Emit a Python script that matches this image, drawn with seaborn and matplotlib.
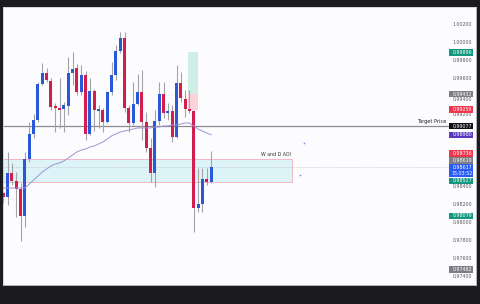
import matplotlib
matplotlib.use("Agg")
import matplotlib.pyplot as plt
import seaborn as sns
import numpy as np
import pandas as pd
from matplotlib.patches import Rectangle

# ---------------- data ----------------
opens = [0.98333, 0.98289, 0.98556, 0.98467, 0.98378, 0.98078, 0.98711, 0.98989, 0.99144, 0.99544,
         0.99667, 0.99578, 0.99300, 0.99278, 0.99267, 0.99300, 0.99667, 0.99722, 0.99456, 0.99644,
         0.98989, 0.99467, 0.99244, 0.99256, 0.99122, 0.99456, 0.99644, 0.99911, 1.00056, 0.99278,
         0.99111, 0.99322, 0.99456, 0.99122, 0.98833, 0.98556, 0.99133, 0.99433, 0.99222, 0.99244,
         0.98956, 0.99556, 0.99378, 0.99267, 0.99244, 0.98167, 0.98211, 0.98489, 0.98456]
highs = [0.98344, 0.98789, 0.98667, 0.98567, 0.98444, 0.98789, 0.99122, 0.99211, 0.99567, 0.99778,
         0.99722, 0.99611, 0.99333, 0.99611, 0.99344, 0.99844, 0.99900, 0.99767, 0.99756, 0.99689,
         0.99611, 0.99489, 0.99311, 0.99278, 0.99467, 0.99789, 0.99978, 1.00122, 1.00122, 0.99311,
         0.99567, 0.99656, 0.99700, 0.99233, 0.98944, 0.99256, 0.99567, 0.99567, 0.99333, 0.99311,
         0.99756, 0.99678, 0.99478, 0.99478, 0.99256, 0.98611, 0.98611, 0.98611, 0.98800]
lows = [0.98222, 0.98200, 0.98422, 0.98067, 0.97800, 0.97956, 0.98678, 0.98944, 0.99122, 0.99533,
        0.99567, 0.99256, 0.99011, 0.99056, 0.99011, 0.99200, 0.99533, 0.99422, 0.99422, 0.98922,
        0.98978, 0.99022, 0.99056, 0.99011, 0.99111, 0.99422, 0.99589, 0.99889, 0.99233, 0.99011,
        0.99089, 0.99311, 0.98922, 0.98789, 0.98456, 0.98400, 0.99089, 0.99167, 0.99144, 0.98900,
        0.98944, 0.99344, 0.99178, 0.99222, 0.97900, 0.98122, 0.98122, 0.98422, 0.98444]
closes = [0.98289, 0.98556, 0.98467, 0.98378, 0.98078, 0.98711, 0.98989, 0.99144, 0.99544, 0.99667,
          0.99589, 0.99289, 0.99278, 0.99261, 0.99311, 0.99667, 0.99711, 0.99456, 0.99644, 0.98989,
          0.99467, 0.99256, 0.99267, 0.99122, 0.99456, 0.99644, 0.99911, 1.00056, 0.99278, 0.99111,
          0.99322, 0.99456, 0.99122, 0.98833, 0.98556, 0.99133, 0.99433, 0.99222, 0.99244, 0.98956,
          0.99556, 0.99389, 0.99267, 0.99244, 0.98167, 0.98211, 0.98489, 0.98456, 0.98617]
ma_values = [0.98389, 0.98389, 0.98389, 0.98389, 0.98389, 0.98389, 0.98433, 0.98478, 0.98522, 0.98567,
             0.98600, 0.98633, 0.98656, 0.98667, 0.98689, 0.98722, 0.98756, 0.98789, 0.98811, 0.98822,
             0.98844, 0.98856, 0.98878, 0.98900, 0.98933, 0.98967, 0.98989, 0.99011, 0.99022, 0.99033,
             0.99044, 0.99056, 0.99056, 0.99056, 0.99056, 0.99067, 0.99067, 0.99078, 0.99078, 0.99089,
             0.99089, 0.99100, 0.99111, 0.99111, 0.99078, 0.99044, 0.99022, 0.99000, 0.98980]

target_price = 0.99077
target_label = "Target Price"
current_price = 0.98617
current_time = "15:03:52"
aoi_top = 0.98713
aoi_bottom = 0.98456
aoi_label = "W and D AOI"
pos_take_profit = 0.99896
pos_entry = 0.99432
pos_stop = 0.99259

# price-scale labels that are visible (the others are covered by badges in the reference)
tick_values = [1.00200, 1.00000, 0.99800, 0.99600, 0.99400, 0.99200,
               0.98400, 0.98200, 0.98000, 0.97800, 0.97600, 0.97400]
tick_labels = ["1.00200", "1.00000", "0.99800", "0.99600", "0.99400", "0.99200",
               "0.98400", "0.98200", "0.98000", "0.97800", "0.97600", "0.97400"]
badge_values = [0.99896, 0.99432, 0.99259, 0.99077, 0.98980, 0.98736, 0.98619, 0.98527, 0.98079, 0.97482]
badge_kinds = ["green", "grey", "red", "black", "purple", "red", "grey", "green", "green", "grey"]
stray_dot_x = [69.5, 68.5]
stray_dot_y = [0.98889, 0.98533]

# ---------------- layout / style ----------------
W, H = 480, 304
L_PX, R_PX, T_PX, B_PX = 3, 476, 7, 285
X0_PX, STEP_PX = 3.3, 4.33
REF_PX, REF_P, PX_PER_UNIT = 25, 1.002, 9000.0

def ix(px):
    return (px - X0_PX) / STEP_PX

def pr(py):
    return REF_P - (py - REF_PX) / PX_PER_UNIT

def dp(px):
    return px / PX_PER_UNIT

badge_shift_px = {0.98736: -3.5, 0.98619: -6.7, 0.98527: 5.4}
tick_shift_px = {"0.99400": 2.8}
badge_colors = {"green": "#13977f", "grey": "#7c7d85", "red": "#f0364f",
                "black": "#101014", "purple": "#5a37bf", "blue": "#2a5cf5"}
UP, DOWN, WICK = "#2958d8", "#d11e4f", "#a3a3a8"
FS = 3.4

sns.set_theme(style="white")
plt.rcParams["font.family"] = ["DejaVu Sans"]

fig = plt.figure(figsize=(W / 100, H / 100), dpi=100, facecolor="#1c1c20")
ax = fig.add_axes([L_PX / W, 1 - B_PX / H, (R_PX - L_PX) / W, (B_PX - T_PX) / H])
ax.set_facecolor("#fcfbfd")
ax.set_xlim(ix(L_PX), ix(R_PX))
ax.set_ylim(pr(B_PX), pr(T_PX))
ax.set_xticks([])
ax.set_yticks([])
for s in ax.spines.values():
    s.set_color("#cfcfd4")
    s.set_linewidth(0.6)

df = pd.DataFrame({"i": np.arange(len(opens)), "open": opens, "high": highs,
                   "low": lows, "close": closes, "ma": ma_values})
up = df["close"] >= df["open"]
colors = np.where(up, UP, DOWN)

# AOI zone
ax.add_patch(Rectangle((ix(L_PX), aoi_bottom), ix(292) - ix(L_PX), aoi_top - aoi_bottom,
                       facecolor="#dcf4f8", edgecolor="#f0b9c5", linewidth=0.7, zorder=1))
ax.text(ix(291), aoi_top + dp(4.2), aoi_label, ha="right", va="center", fontsize=FS,
        color="#333333", zorder=6)

# position tool
ax.add_patch(Rectangle((ix(188.3), pos_entry), ix(197.7) - ix(188.3), pos_take_profit - pos_entry,
                       facecolor="#cfeee6", edgecolor="none", zorder=1))
ax.add_patch(Rectangle((ix(188.3), pos_stop), ix(197.7) - ix(188.3), pos_entry - pos_stop,
                       facecolor="#fbd3d9", edgecolor="none", zorder=1))

# target line and current price line
ax.plot([ix(L_PX), ix(448)], [target_price, target_price], color="#8c8c90", lw=0.9, zorder=2)
ax.text(ix(446), target_price + dp(4.6), target_label, ha="right", va="center",
        fontsize=FS + 0.2, color="#222222", zorder=6)
ax.plot([ix(L_PX), ix(449)], [current_price, current_price], color="#c9c9d0", lw=0.6,
        ls=(0, (1.5, 1.5)), zorder=2)

# candles
ax.vlines(df["i"], df["low"], df["high"], color=WICK, lw=0.8, zorder=3)
body_h = np.maximum((df["close"] - df["open"]).abs(), dp(1.3))
ax.bar(df["i"], body_h, bottom=np.minimum(df["open"], df["close"]), width=0.7,
       color=colors, linewidth=0, zorder=4)

# moving average
sns.lineplot(data=df, x="i", y="ma", ax=ax, color="#9d93d6", lw=0.7, zorder=5)
sns.scatterplot(x=stray_dot_x, y=stray_dot_y, ax=ax, color="#8f88d8", s=1.5, linewidth=0, zorder=5)

# price scale labels
xc = ix(462.5)
for v, t in zip(tick_values, tick_labels):
    ax.text(xc, v - dp(tick_shift_px.get(t, 0.0)), t, ha="center", va="center", fontsize=FS,
            color="#5a5a60", zorder=7)

def badge(y, text, color, h_px=6.6):
    ax.add_patch(Rectangle((ix(449), y - dp(h_px / 2)), ix(473) - ix(449), dp(h_px),
                           facecolor=color, edgecolor="none", zorder=8))
    ax.text(xc, y, text, ha="center", va="center", fontsize=FS, color="white", zorder=9)

for v, k in zip(badge_values, badge_kinds):
    y = v - dp(badge_shift_px.get(v, 0.0))
    badge(y, f"{v:.5f}", badge_colors[k])

# current price badge (two lines)
cy = current_price - dp(3.0)
ax.add_patch(Rectangle((ix(449), cy - dp(6.2)), ix(473) - ix(449), dp(12.4),
                       facecolor=badge_colors["blue"], edgecolor="none", zorder=8))
ax.text(xc, cy + dp(3.0), f"{current_price:.5f}", ha="center", va="center", fontsize=FS,
        color="white", zorder=9)
ax.text(xc, cy - dp(3.2), current_time, ha="center", va="center", fontsize=FS,
        color="white", zorder=9)

ax.set_xlabel("")
ax.set_ylabel("")
fig.savefig("out.png", dpi=100, facecolor=fig.get_facecolor())
